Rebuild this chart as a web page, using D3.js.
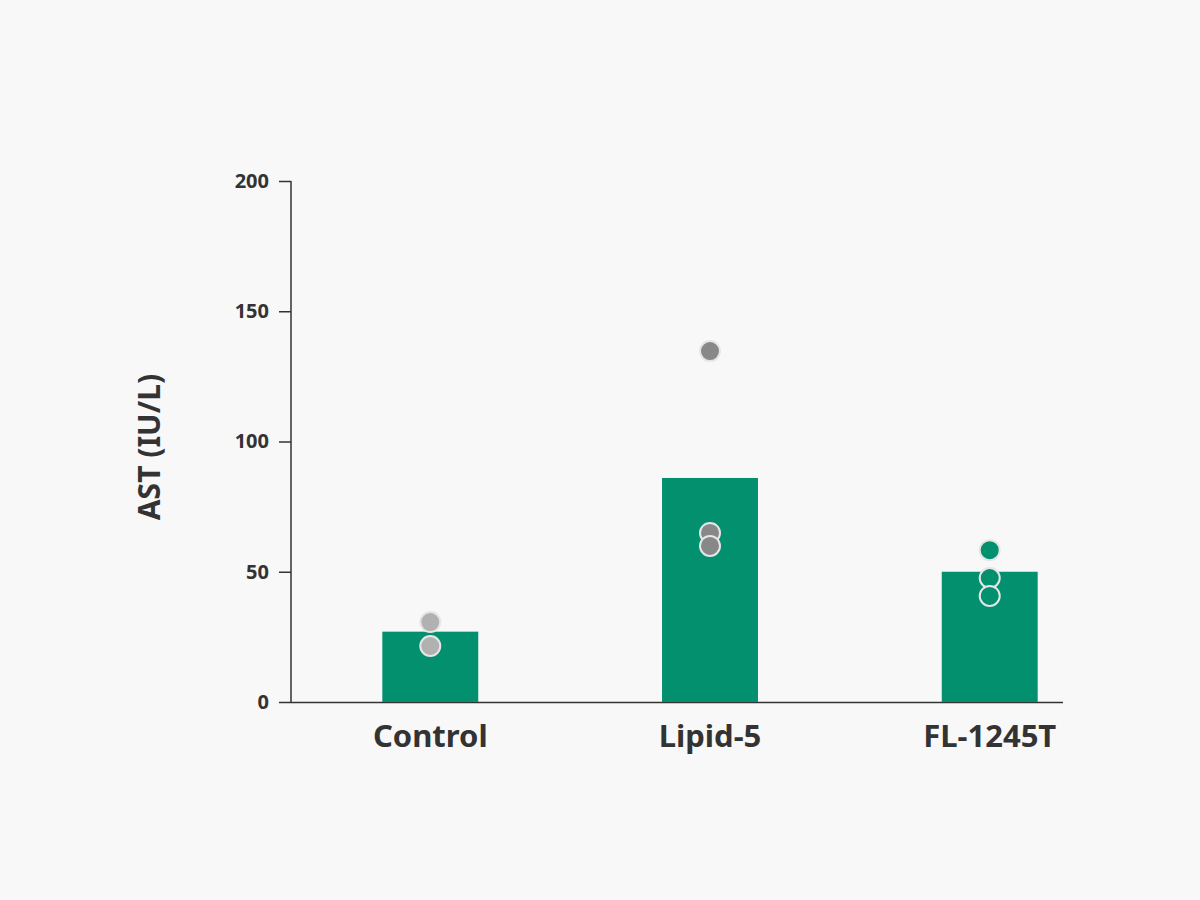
<!DOCTYPE html>
<html><head><meta charset="utf-8">
<script src="https://cdn.jsdelivr.net/npm/d3@7"></script>
<style>body{margin:0;background:#f8f8f8;font-family:"Noto Sans",sans-serif}</style>
</head><body><div id="chart"></div>
<script>
const groups = ["Control", "Lipid-5", "FL-1245T"];
const means = [27, 86, 50];
const points = [[30.7, 21.5], [134.7, 64.9, 59.9], [58.3, 47.6, 40.7]];
const pointColors = ["#b1b1b1", "#888888", "#03906e"];
const yTicks = [0, 50, 100, 150, 200];

const svg = d3.select("#chart").append("svg").attr("width", 1200).attr("height", 900);
svg.append("rect").attr("width", 1200).attr("height", 900).attr("fill", "#f8f8f8");

const x = d3.scaleBand().domain(groups).range([290, 1130]).paddingInner(0.657).paddingOuter(0.33);
const y = d3.scaleLinear().domain([0, 200]).range([702, 181]);

// axes
const yAxis = svg.append("g").attr("transform", "translate(291,0)")
    .call(d3.axisLeft(y).tickValues(yTicks).tickSize(12).tickPadding(10));
yAxis.select(".domain").attr("stroke", "#333").attr("stroke-width", 1.5).attr("d", "M0,181V702");
yAxis.selectAll(".tick line").attr("stroke", "#333").attr("stroke-width", 1.5);
yAxis.selectAll("text").attr("fill", "#333").style("font-size", "20px").style("font-weight", "bold")
    .style("font-family", "Noto Sans");

svg.append("line").attr("x1", 291).attr("x2", 1063).attr("y1", 702.5).attr("y2", 702.5)
    .attr("stroke", "#333").attr("stroke-width", 1.5);

// bars
svg.selectAll(".bar").data(groups).enter().append("rect")
    .attr("x", d => x(d)).attr("width", x.bandwidth())
    .attr("y", (d, i) => y(means[i])).attr("height", (d, i) => y(0) - y(means[i]))
    .attr("fill", "#03906e");

// points
groups.forEach((g, i) => {
    svg.selectAll(".pt" + i).data(points[i]).enter().append("circle")
        .attr("cx", x(g) + x.bandwidth() / 2).attr("cy", d => y(d)).attr("r", 10)
        .attr("fill", pointColors[i]).attr("stroke", "#e6e6e6").attr("stroke-width", 2);
});

// x labels
svg.selectAll(".xl").data(groups).enter().append("text")
    .attr("x", d => x(d) + x.bandwidth() / 2).attr("y", 747)
    .attr("text-anchor", "middle").attr("fill", "#333")
    .style("font-size", "31px").style("font-weight", "bold").text(d => d);

// y title
svg.append("text").attr("transform", "translate(160,447) rotate(-90)")
    .attr("text-anchor", "middle").attr("fill", "#333")
    .style("font-size", "30px").style("font-weight", "bold").text("AST (IU/L)");
</script></body></html>
